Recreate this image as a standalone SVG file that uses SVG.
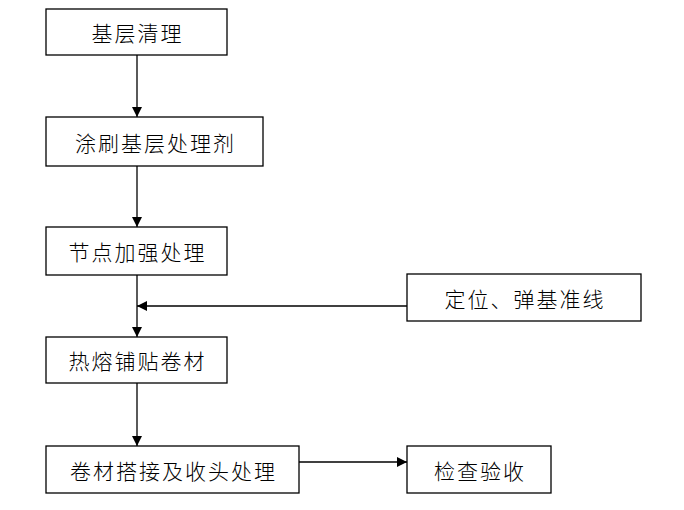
<svg xmlns="http://www.w3.org/2000/svg" width="684" height="510" viewBox="0 0 684 510">
<style>
.box{fill:#fff;stroke:#000;stroke-width:1.3}
.t{font-family:"Noto Sans CJK SC","Liberation Sans",sans-serif;font-size:21px;font-weight:300;fill:#000;text-anchor:middle;dominant-baseline:central;letter-spacing:2px}
.c{stroke:#000;stroke-width:1.3;fill:none}
</style>
<defs>
<marker id="ah" viewBox="0 0 10 10" refX="10" refY="5" markerWidth="10" markerHeight="10" markerUnits="userSpaceOnUse" orient="auto">
<path d="M0,0 L10,5 L0,10 z" fill="#000"/>
</marker>
</defs>
<rect width="684" height="510" fill="#fff"/>
<g id="connectors">
<line class="c" x1="137" y1="55" x2="137" y2="117" marker-end="url(#ah)"/>
<line class="c" x1="137" y1="166" x2="137" y2="227" marker-end="url(#ah)"/>
<line class="c" x1="137" y1="275" x2="137" y2="337" marker-end="url(#ah)"/>
<line class="c" x1="407" y1="306" x2="137" y2="306" marker-end="url(#ah)"/>
<line class="c" x1="137" y1="383" x2="137" y2="446" marker-end="url(#ah)"/>
<line class="c" x1="299" y1="462" x2="407" y2="462" marker-end="url(#ah)"/>
</g>
<g id="n1"><rect class="box" x="46" y="9" width="181" height="46"/><text class="t" x="137.5" y="32">基层清理</text></g>
<g id="n2"><rect class="box" x="46" y="117" width="217" height="49"/><text class="t" x="155.5" y="141.5">涂刷基层处理剂</text></g>
<g id="n3"><rect class="box" x="46" y="227" width="181" height="48"/><text class="t" x="137.5" y="251">节点加强处理</text></g>
<g id="n4"><rect class="box" x="407" y="274" width="234" height="47"/><text class="t" x="525" y="297.5">定位、弹基准线</text></g>
<g id="n5"><rect class="box" x="46" y="337" width="181" height="46"/><text class="t" x="137.5" y="360">热熔铺贴卷材</text></g>
<g id="n6"><rect class="box" x="46" y="446" width="253" height="47"/><text class="t" x="173.5" y="469.5">卷材搭接及收头处理</text></g>
<g id="n7"><rect class="box" x="407" y="446" width="144" height="47"/><text class="t" x="480" y="469.5">检查验收</text></g>
</svg>
